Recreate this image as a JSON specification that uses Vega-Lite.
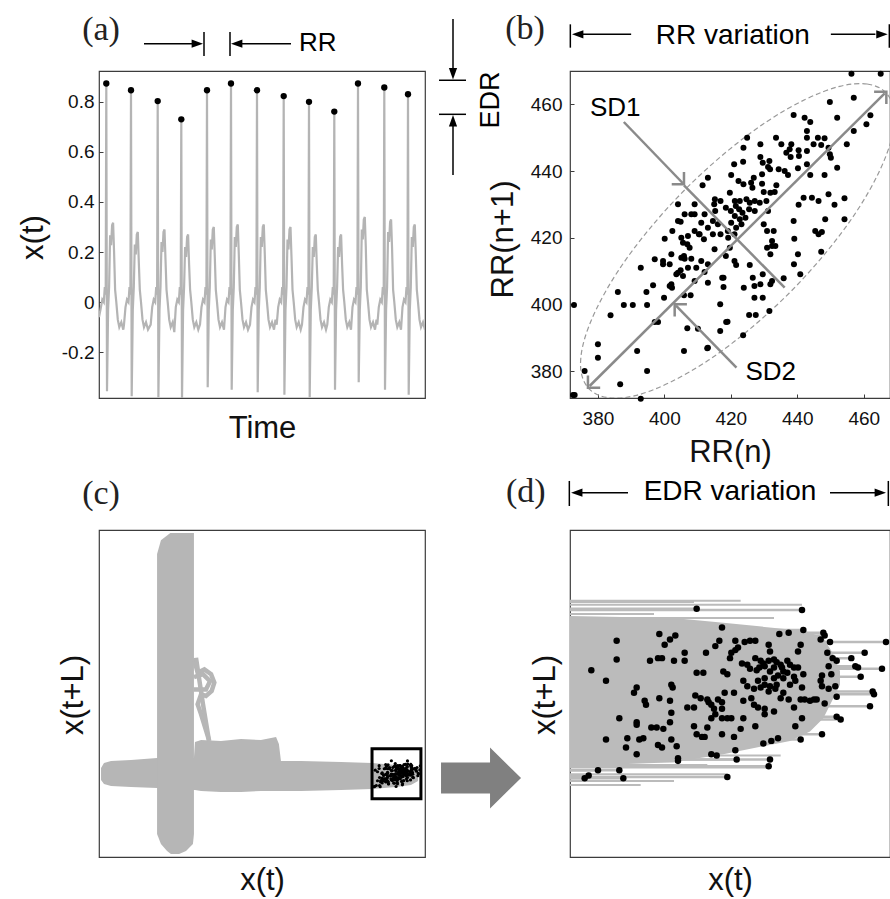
{
  "$schema": "https://vega.github.io/schema/vega-lite/v6.json",
  "autosize": {"type": "pad"},
  "padding": 0,
  "bounds": "flush",
  "columns": 2,
  "spacing": {"row": 132, "column": 145},
  "background": "white",
  "config": {
    "view": {"stroke": "#3c3c3c", "strokeWidth": 1.2},
    "font": "Liberation Sans",
    "axis": {"domain": false, "grid": false, "labelFont": "Liberation Sans", "labelFontSize": 19, "labelColor": "#111", "titleFont": "Liberation Sans", "titleFontSize": 31, "titleFontWeight": "normal", "titleColor": "#111", "tickColor": "#3c3c3c", "tickSize": -4, "tickWidth": 1}
  },
  "datasets": {
    "rpk": [
      {"x":0.835,"y":-0.079},{"x":0.914,"y":-0.080},{"x":0.854,"y":-0.093},{"x":0.915,"y":-0.095},{"x":0.904,"y":-0.097},{"x":0.897,"y":-0.098},{"x":0.930,"y":-0.097},{"x":0.931,"y":-0.099},{"x":0.928,"y":-0.102},{"x":0.935,"y":-0.104},
      {"x":0.977,"y":-0.104},{"x":0.807,"y":-0.098},{"x":0.815,"y":-0.102},{"x":0.819,"y":-0.099},{"x":0.811,"y":-0.106},{"x":0.775,"y":-0.103},{"x":0.864,"y":-0.103},{"x":0.871,"y":-0.104},{"x":0.875,"y":-0.103},{"x":0.879,"y":-0.103},
      {"x":0.852,"y":-0.103},{"x":0.849,"y":-0.107},{"x":0.889,"y":-0.106},{"x":0.890,"y":-0.111},{"x":0.913,"y":-0.106},{"x":0.911,"y":-0.111},{"x":0.775,"y":-0.117},{"x":0.800,"y":-0.118},{"x":0.806,"y":-0.116},{"x":0.809,"y":-0.116},
      {"x":0.818,"y":-0.118},{"x":0.826,"y":-0.112},{"x":0.826,"y":-0.118},{"x":0.842,"y":-0.112},{"x":0.861,"y":-0.112},{"x":0.864,"y":-0.110},{"x":0.860,"y":-0.116},{"x":0.866,"y":-0.108},{"x":0.933,"y":-0.112},{"x":0.937,"y":-0.116},
      {"x":0.940,"y":-0.118},{"x":0.951,"y":-0.116},{"x":0.961,"y":-0.112},{"x":0.954,"y":-0.122},{"x":0.956,"y":-0.123},{"x":0.974,"y":-0.124},{"x":0.958,"y":-0.130},{"x":0.756,"y":-0.125},{"x":0.767,"y":-0.133},{"x":0.835,"y":-0.127},
      {"x":0.840,"y":-0.127},{"x":0.855,"y":-0.126},{"x":0.858,"y":-0.128},{"x":0.869,"y":-0.120},{"x":0.873,"y":-0.121},{"x":0.875,"y":-0.124},{"x":0.880,"y":-0.125},{"x":0.882,"y":-0.123},{"x":0.885,"y":-0.120},{"x":0.889,"y":-0.118},
      {"x":0.893,"y":-0.117},{"x":0.895,"y":-0.119},{"x":0.898,"y":-0.121},{"x":0.903,"y":-0.118},{"x":0.905,"y":-0.121},{"x":0.908,"y":-0.123},{"x":0.911,"y":-0.123},{"x":0.900,"y":-0.126},{"x":0.890,"y":-0.126},{"x":0.886,"y":-0.131},
      {"x":0.893,"y":-0.131},{"x":0.896,"y":-0.129},{"x":0.900,"y":-0.131},{"x":0.908,"y":-0.130},{"x":0.915,"y":-0.128},{"x":0.929,"y":-0.129},{"x":0.934,"y":-0.122},{"x":0.936,"y":-0.128},{"x":0.788,"y":-0.142},{"x":0.790,"y":-0.138},
      {"x":0.816,"y":-0.136},{"x":0.817,"y":-0.138},{"x":0.807,"y":-0.146},{"x":0.870,"y":-0.133},{"x":0.873,"y":-0.137},{"x":0.878,"y":-0.139},{"x":0.883,"y":-0.138},{"x":0.886,"y":-0.136},{"x":0.890,"y":-0.137},{"x":0.894,"y":-0.139},
      {"x":0.900,"y":-0.142},{"x":0.905,"y":-0.136},{"x":0.914,"y":-0.138},{"x":0.928,"y":-0.133},{"x":0.929,"y":-0.137},{"x":0.934,"y":-0.139},{"x":0.939,"y":-0.137},{"x":0.940,"y":-0.145},{"x":0.967,"y":-0.141},{"x":0.968,"y":-0.143},
      {"x":0.965,"y":-0.152},{"x":0.796,"y":-0.148},{"x":0.797,"y":-0.151},{"x":0.815,"y":-0.148},{"x":0.816,"y":-0.157},{"x":0.828,"y":-0.153},{"x":0.833,"y":-0.153},{"x":0.834,"y":-0.144},{"x":0.838,"y":-0.146},{"x":0.843,"y":-0.147},
      {"x":0.844,"y":-0.149},{"x":0.846,"y":-0.151},{"x":0.848,"y":-0.154},{"x":0.849,"y":-0.158},{"x":0.851,"y":-0.147},{"x":0.854,"y":-0.149},{"x":0.854,"y":-0.154},{"x":0.856,"y":-0.142},{"x":0.863,"y":-0.142},{"x":0.870,"y":-0.148},
      {"x":0.876,"y":-0.146},{"x":0.878,"y":-0.151},{"x":0.881,"y":-0.153},{"x":0.886,"y":-0.154},{"x":0.893,"y":-0.156},{"x":0.898,"y":-0.146},{"x":0.904,"y":-0.147},{"x":0.908,"y":-0.153},{"x":0.913,"y":-0.147},{"x":0.916,"y":-0.147},
      {"x":0.920,"y":-0.148},{"x":0.923,"y":-0.147},{"x":0.925,"y":-0.147},{"x":0.931,"y":-0.150},{"x":0.940,"y":-0.160},{"x":0.943,"y":-0.162},{"x":0.914,"y":-0.161},{"x":0.777,"y":-0.161},{"x":0.790,"y":-0.164},{"x":0.790,"y":-0.166},
      {"x":0.801,"y":-0.168},{"x":0.805,"y":-0.168},{"x":0.810,"y":-0.169},{"x":0.815,"y":-0.164},{"x":0.833,"y":-0.167},{"x":0.843,"y":-0.168},{"x":0.839,"y":-0.175},{"x":0.846,"y":-0.161},{"x":0.854,"y":-0.161},{"x":0.858,"y":-0.161},
      {"x":0.861,"y":-0.161},{"x":0.870,"y":-0.161},{"x":0.868,"y":-0.169},{"x":0.879,"y":-0.167},{"x":0.886,"y":-0.158},{"x":0.909,"y":-0.167},{"x":0.929,"y":-0.173},{"x":0.767,"y":-0.177},{"x":0.783,"y":-0.176},{"x":0.792,"y":-0.177},
      {"x":0.795,"y":-0.176},{"x":0.816,"y":-0.177},{"x":0.806,"y":-0.181},{"x":0.809,"y":-0.183},{"x":0.820,"y":-0.182},{"x":0.782,"y":-0.183},{"x":0.790,"y":-0.188},{"x":0.835,"y":-0.173},{"x":0.841,"y":-0.175},{"x":0.854,"y":-0.173},
      {"x":0.863,"y":-0.175},{"x":0.885,"y":-0.180},{"x":0.891,"y":-0.178},{"x":0.896,"y":-0.176},{"x":0.913,"y":-0.177},{"x":0.864,"y":-0.185},{"x":0.865,"y":-0.192},{"x":0.846,"y":-0.188},{"x":0.850,"y":-0.189},{"x":0.821,"y":-0.191},
      {"x":0.821,"y":-0.193},{"x":0.890,"y":-0.192},{"x":0.889,"y":-0.197},{"x":0.751,"y":-0.206},{"x":0.754,"y":-0.204},{"x":0.761,"y":-0.200},{"x":0.777,"y":-0.200},{"x":0.780,"y":-0.206},{"x":0.858,"y":-0.205},{"x":0.879,"y":-0.116},
      {"x":0.883,"y":-0.118},{"x":0.886,"y":-0.122},{"x":0.893,"y":-0.123},{"x":0.899,"y":-0.123},{"x":0.903,"y":-0.127},{"x":0.881,"y":-0.133},{"x":0.909,"y":-0.133},{"x":0.889,"y":-0.141},{"x":0.895,"y":-0.136}
    ]
  },
  "concat": [
    {
      "width": 326, "height": 327,
      "layer": [
        {
          "data": {"values": [
            {"t":0,"v":-0.06},{"t":1.5,"v":-0.03},{"t":3.3,"v":0.01},{"t":4.8,"v":0.0},{"t":5.8,"v":0.06},{"t":6.7,"v":0.03},{"t":7.3,"v":0.873},{"t":8.0,"v":-0.356},{"t":9.1,"v":-0.03},{"t":10.1,"v":0.06},{"t":11.1,"v":0.267},{"t":12.1,"v":0.227},{"t":13.1,"v":0.307},{"t":14.1,"v":0.317},{"t":15.1,"v":0.197},{"t":16.1,"v":0.05},{"t":17.3,"v":0.0},{"t":18.8,"v":-0.07},{"t":20.3,"v":-0.10},{"t":22.3,"v":-0.08},{"t":24.3,"v":-0.11},
            {"t":25,"v":-0.09},{"t":26.5,"v":-0.02},{"t":28,"v":0.01},{"t":29.5,"v":0.0},{"t":30.5,"v":0.06},{"t":31.4,"v":0.03},{"t":32,"v":0.846},{"t":32.7,"v":-0.376},{"t":33.8,"v":-0.03},{"t":34.8,"v":0.06},{"t":35.8,"v":0.23},{"t":36.8,"v":0.19},{"t":37.8,"v":0.27},{"t":38.8,"v":0.28},{"t":39.8,"v":0.16},{"t":40.8,"v":0.05},{"t":42,"v":0.0},{"t":43.5,"v":-0.07},{"t":45,"v":-0.10},{"t":47,"v":-0.08},{"t":49,"v":-0.11},
            {"t":51.7,"v":-0.09},{"t":53.2,"v":-0.02},{"t":54.7,"v":0.01},{"t":56.2,"v":0.0},{"t":57.2,"v":0.06},{"t":58.1,"v":0.03},{"t":58.7,"v":0.803},{"t":59.4,"v":-0.38},{"t":60.5,"v":-0.03},{"t":61.5,"v":0.06},{"t":62.5,"v":0.24},{"t":63.5,"v":0.2},{"t":64.5,"v":0.28},{"t":65.5,"v":0.29},{"t":66.5,"v":0.17},{"t":67.5,"v":0.05},{"t":68.7,"v":0.0},{"t":70.2,"v":-0.07},{"t":71.7,"v":-0.10},{"t":73.7,"v":-0.08},
            {"t":75.3,"v":-0.12},{"t":76.8,"v":-0.02},{"t":78.3,"v":0.01},{"t":79.8,"v":0.0},{"t":80.8,"v":0.06},{"t":81.7,"v":0.03},{"t":82.3,"v":0.730},{"t":83.0,"v":-0.39},{"t":84.1,"v":-0.03},{"t":85.1,"v":0.06},{"t":86.1,"v":0.22},{"t":87.1,"v":0.18},{"t":88.1,"v":0.26},{"t":89.1,"v":0.27},{"t":90.1,"v":0.15},{"t":91.1,"v":0.05},{"t":92.3,"v":0.0},{"t":93.8,"v":-0.07},{"t":95.3,"v":-0.10},{"t":97.3,"v":-0.08},{"t":99.3,"v":-0.11},
            {"t":101,"v":-0.09},{"t":102.5,"v":-0.02},{"t":104,"v":0.01},{"t":105.5,"v":0.0},{"t":106.5,"v":0.06},{"t":107.4,"v":0.03},{"t":108,"v":0.846},{"t":108.7,"v":-0.34},{"t":109.8,"v":-0.03},{"t":110.8,"v":0.06},{"t":111.8,"v":0.25},{"t":112.8,"v":0.21},{"t":113.8,"v":0.29},{"t":114.8,"v":0.30},{"t":115.8,"v":0.18},{"t":116.8,"v":0.05},{"t":118,"v":0.0},{"t":119.5,"v":-0.07},{"t":121,"v":-0.10},{"t":123,"v":-0.08},
            {"t":125,"v":-0.11},{"t":126.5,"v":-0.02},{"t":128,"v":0.01},{"t":129.5,"v":0.0},{"t":130.5,"v":0.06},{"t":131.4,"v":0.03},{"t":132,"v":0.873},{"t":132.7,"v":-0.35},{"t":133.8,"v":-0.03},{"t":134.8,"v":0.06},{"t":135.8,"v":0.26},{"t":136.8,"v":0.22},{"t":137.8,"v":0.30},{"t":138.8,"v":0.31},{"t":139.8,"v":0.19},{"t":140.8,"v":0.05},{"t":142,"v":0.0},{"t":143.5,"v":-0.07},{"t":145,"v":-0.10},{"t":147,"v":-0.08},{"t":149,"v":-0.11},
            {"t":151,"v":-0.09},{"t":152.5,"v":-0.02},{"t":154,"v":0.01},{"t":155.5,"v":0.0},{"t":156.5,"v":0.06},{"t":157.4,"v":0.03},{"t":158,"v":0.846},{"t":158.7,"v":-0.36},{"t":159.8,"v":-0.03},{"t":160.8,"v":0.06},{"t":161.8,"v":0.26},{"t":162.8,"v":0.22},{"t":163.8,"v":0.30},{"t":164.8,"v":0.31},{"t":165.8,"v":0.19},{"t":166.8,"v":0.05},{"t":168,"v":0.0},{"t":169.5,"v":-0.07},{"t":171,"v":-0.10},{"t":173,"v":-0.08},{"t":175,"v":-0.11},{"t":176.5,"v":-0.07},
            {"t":177.7,"v":-0.09},{"t":179.2,"v":-0.02},{"t":180.7,"v":0.01},{"t":182.2,"v":0.0},{"t":183.2,"v":0.06},{"t":184.1,"v":0.03},{"t":184.7,"v":0.823},{"t":185.4,"v":-0.37},{"t":186.5,"v":-0.03},{"t":187.5,"v":0.06},{"t":188.5,"v":0.25},{"t":189.5,"v":0.21},{"t":190.5,"v":0.29},{"t":191.5,"v":0.30},{"t":192.5,"v":0.18},{"t":193.5,"v":0.05},{"t":194.7,"v":0.0},{"t":196.2,"v":-0.07},{"t":197.7,"v":-0.10},{"t":199.7,"v":-0.08},{"t":201.7,"v":-0.11},
            {"t":203,"v":-0.09},{"t":204.5,"v":-0.02},{"t":206,"v":0.01},{"t":207.5,"v":0.0},{"t":208.5,"v":0.06},{"t":209.4,"v":0.03},{"t":210,"v":0.80},{"t":210.7,"v":-0.38},{"t":211.8,"v":-0.03},{"t":212.8,"v":0.06},{"t":213.8,"v":0.22},{"t":214.8,"v":0.18},{"t":215.8,"v":0.26},{"t":216.8,"v":0.27},{"t":217.8,"v":0.15},{"t":218.8,"v":0.05},{"t":220,"v":0.0},{"t":221.5,"v":-0.07},{"t":223,"v":-0.10},{"t":225,"v":-0.08},{"t":227,"v":-0.11},
            {"t":228.3,"v":-0.09},{"t":229.8,"v":-0.02},{"t":231.3,"v":0.01},{"t":232.8,"v":0.0},{"t":233.8,"v":0.06},{"t":234.7,"v":0.03},{"t":235.3,"v":0.761},{"t":236.0,"v":-0.35},{"t":237.1,"v":-0.03},{"t":238.1,"v":0.06},{"t":239.1,"v":0.22},{"t":240.1,"v":0.18},{"t":241.1,"v":0.26},{"t":242.1,"v":0.27},{"t":243.1,"v":0.15},{"t":244.1,"v":0.05},{"t":245.3,"v":0.0},{"t":246.8,"v":-0.07},{"t":248.3,"v":-0.10},{"t":250.3,"v":-0.08},
            {"t":252,"v":-0.11},{"t":253.5,"v":-0.02},{"t":255,"v":0.01},{"t":256.5,"v":0.0},{"t":257.5,"v":0.06},{"t":258.4,"v":0.03},{"t":259,"v":0.873},{"t":259.7,"v":-0.32},{"t":260.8,"v":-0.03},{"t":261.8,"v":0.06},{"t":262.8,"v":0.29},{"t":263.8,"v":0.25},{"t":264.8,"v":0.33},{"t":265.8,"v":0.34},{"t":266.8,"v":0.22},{"t":267.8,"v":0.05},{"t":269,"v":0.0},{"t":270.5,"v":-0.07},{"t":272,"v":-0.10},{"t":274,"v":-0.08},{"t":276,"v":-0.11},{"t":277.5,"v":-0.07},
            {"t":278.3,"v":-0.09},{"t":279.8,"v":-0.02},{"t":281.3,"v":0.01},{"t":282.8,"v":0.0},{"t":283.8,"v":0.06},{"t":284.7,"v":0.03},{"t":285.3,"v":0.857},{"t":286.0,"v":-0.35},{"t":287.1,"v":-0.03},{"t":288.1,"v":0.06},{"t":289.1,"v":0.28},{"t":290.1,"v":0.24},{"t":291.1,"v":0.32},{"t":292.1,"v":0.33},{"t":293.1,"v":0.21},{"t":294.1,"v":0.05},{"t":295.3,"v":0.0},{"t":296.8,"v":-0.07},{"t":298.3,"v":-0.10},{"t":300.3,"v":-0.08},
            {"t":302,"v":-0.11},{"t":303.5,"v":-0.02},{"t":305,"v":0.01},{"t":306.5,"v":0.0},{"t":307.5,"v":0.06},{"t":308.4,"v":0.03},{"t":309,"v":0.83},{"t":309.7,"v":-0.37},{"t":310.8,"v":-0.03},{"t":311.8,"v":0.06},{"t":312.8,"v":0.26},{"t":313.8,"v":0.22},{"t":314.8,"v":0.30},{"t":315.8,"v":0.31},{"t":316.8,"v":0.19},{"t":317.8,"v":0.05},{"t":319,"v":0.0},{"t":320.5,"v":-0.07},{"t":322,"v":-0.10},{"t":324,"v":-0.08},{"t":326,"v":-0.11}
          ]},
          "mark": {"type": "line", "color": "#b4b4b4", "strokeWidth": 2.2, "clip": true},
          "encoding": {
            "x": {"field": "t", "type": "quantitative", "scale": {"domain": [0, 326], "nice": false, "zero": false},
                  "axis": {"title": "Time", "labels": false, "ticks": false, "titleX": 163, "titleY": 39, "titleAlign": "center", "titleBaseline": "alphabetic"}},
            "y": {"field": "v", "type": "quantitative", "scale": {"domain": [-0.383, 0.923], "nice": false, "zero": false},
                  "axis": {"title": "x(t)", "values": [-0.2, 0, 0.2, 0.4, 0.6, 0.8], "labelExpr": "datum.value < 0 ? '-' + format(-datum.value, '.1f') : (datum.value == 0 ? '0' : format(datum.value, '.1f'))", "labelPadding": 9, "titleX": -66, "titleY": 166, "titleAlign": "center", "titleBaseline": "middle", "titleAngle": 270}}
          }
        },
        {
          "data": {"values": [{"t": -98, "v": 1.2026, "t2": -92}]},
          "mark": {"type": "rule", "color": "#ffffff", "strokeWidth": 1, "opacity": 0},
          "encoding": {"x": {"field": "t", "type": "quantitative"}, "x2": {"field": "t2"}, "y": {"field": "v", "type": "quantitative"}}
        },
        {
          "data": {"values": [
            {"t":7.3,"v":0.873},{"t":32,"v":0.846},{"t":58.7,"v":0.803},{"t":82.3,"v":0.730},{"t":108,"v":0.846},{"t":132,"v":0.873},{"t":158,"v":0.846},{"t":184.7,"v":0.823},{"t":210,"v":0.80},{"t":235.3,"v":0.761},{"t":259,"v":0.873},{"t":285.3,"v":0.857},{"t":309,"v":0.83}
          ]},
          "mark": {"type": "point", "filled": true, "color": "#000", "size": 40, "opacity": 1},
          "encoding": {"x": {"field": "t", "type": "quantitative"}, "y": {"field": "v", "type": "quantitative"}}
        },
        {
          "data": {"values": [
            {"t":45,"v":1.032,"t2":99,"v2":1.032},
            {"t":105,"v":1.079,"t2":105,"v2":0.983},
            {"t":131,"v":1.079,"t2":131,"v2":0.983},
            {"t":137,"v":1.032,"t2":192,"v2":1.032},
            {"t":354,"v":1.131,"t2":354,"v2":0.905},
            {"t":340,"v":0.886,"t2":367,"v2":0.886},
            {"t":340,"v":0.750,"t2":367,"v2":0.750},
            {"t":354,"v":0.730,"t2":354,"v2":0.508}
          ]},
          "mark": {"type": "rule", "color": "#000", "strokeWidth": 1.5},
          "encoding": {"x": {"field": "t", "type": "quantitative"}, "x2": {"field": "t2"}, "y": {"field": "v", "type": "quantitative"}, "y2": {"field": "v2"}}
        },
        {
          "data": {"values": [{"t":104,"v":1.032}]},
          "mark": {"type": "point", "shape": "M0,0L-1,-0.36L-1,0.36Z", "filled": true, "color": "#000", "size": 520, "opacity": 1, "angle": 0},
          "encoding": {"x": {"field": "t", "type": "quantitative"}, "y": {"field": "v", "type": "quantitative"}}
        },
        {
          "data": {"values": [{"t":132,"v":1.032}]},
          "mark": {"type": "point", "shape": "M0,0L-1,-0.36L-1,0.36Z", "filled": true, "color": "#000", "size": 520, "opacity": 1, "angle": 180},
          "encoding": {"x": {"field": "t", "type": "quantitative"}, "y": {"field": "v", "type": "quantitative"}}
        },
        {
          "data": {"values": [{"t":354,"v":0.889}]},
          "mark": {"type": "point", "shape": "M0,0L-1,-0.36L-1,0.36Z", "filled": true, "color": "#000", "size": 520, "opacity": 1, "angle": 90},
          "encoding": {"x": {"field": "t", "type": "quantitative"}, "y": {"field": "v", "type": "quantitative"}}
        },
        {
          "data": {"values": [{"t":354,"v":0.747}]},
          "mark": {"type": "point", "shape": "M0,0L-1,-0.36L-1,0.36Z", "filled": true, "color": "#000", "size": 520, "opacity": 1, "angle": 270},
          "encoding": {"x": {"field": "t", "type": "quantitative"}, "y": {"field": "v", "type": "quantitative"}}
        },
        {
          "data": {"values": [{"t": 2, "v": 1.087, "label": "(a)"}]},
          "mark": {"type": "text", "font": "Liberation Serif", "fontSize": 34, "color": "#222", "align": "center", "baseline": "middle"},
          "encoding": {"x": {"field": "t", "type": "quantitative"}, "y": {"field": "v", "type": "quantitative"}, "text": {"field": "label"}}
        },
        {
          "data": {"values": [{"t": 218.7, "v": 1.035, "label": "RR"}]},
          "mark": {"type": "text", "fontSize": 26, "color": "#000", "align": "center", "baseline": "middle"},
          "encoding": {"x": {"field": "t", "type": "quantitative"}, "y": {"field": "v", "type": "quantitative"}, "text": {"field": "label"}}
        },
        {
          "data": {"values": [{"t": 392, "v": 0.807, "label": "EDR"}]},
          "mark": {"type": "text", "fontSize": 27, "color": "#000", "align": "center", "baseline": "middle", "angle": 270},
          "encoding": {"x": {"field": "t", "type": "quantitative"}, "y": {"field": "v", "type": "quantitative"}, "text": {"field": "label"}}
        }
      ]
    },
    {
      "width": 320, "height": 327,
      "layer": [
        {
          "data": {"values": [
            {"k":0,"x":466.6,"y":463.6},{"k":1,"x":461.0,"y":466.1},{"k":2,"x":452.8,"y":465.4},{"k":3,"x":442.5,"y":461.5},{"k":4,"x":430.8,"y":454.8},{"k":5,"x":418.5,"y":445.6},
            {"k":6,"x":406.4,"y":434.6},{"k":7,"x":395.4,"y":422.5},{"k":8,"x":386.2,"y":410.2},{"k":9,"x":379.5,"y":398.5},{"k":10,"x":375.6,"y":388.2},{"k":11,"x":374.9,"y":380.0},
            {"k":12,"x":377.5,"y":374.5},{"k":13,"x":383.0,"y":372.0},{"k":14,"x":391.2,"y":372.6},{"k":15,"x":401.5,"y":376.5},{"k":16,"x":413.2,"y":383.2},{"k":17,"x":425.5,"y":392.4},
            {"k":18,"x":437.6,"y":403.4},{"k":19,"x":448.6,"y":415.5},{"k":20,"x":457.8,"y":427.8},{"k":21,"x":464.5,"y":439.5},{"k":22,"x":468.4,"y":449.8},{"k":23,"x":469.1,"y":458.0}
          ]},
          "mark": {"type": "line", "interpolate": "cardinal-closed", "color": "#999999", "strokeWidth": 1.2, "strokeDash": [5, 3], "clip": true},
          "encoding": {
            "x": {"field": "x", "type": "quantitative", "scale": {"domain": [371.6, 467.9], "nice": false, "zero": false},
                  "axis": {"title": "RR(n)", "values": [380, 400, 420, 440, 460], "labelPadding": 15, "titleX": 160, "titleY": 63, "titleAlign": "center", "titleBaseline": "alphabetic"}},
            "y": {"field": "y", "type": "quantitative", "scale": {"domain": [371.9, 470], "nice": false, "zero": false},
                  "axis": {"title": "RR(n+1)", "values": [380, 400, 420, 440, 460], "labelPadding": 12, "titleX": -66.5, "titleY": 168, "titleAlign": "center", "titleBaseline": "middle", "titleAngle": 270}},
            "order": {"field": "k", "type": "quantitative"}
          }
        },
        {
          "data": {"values": [
            {"x":456.3,"y":469.2},{"x":465.1,"y":469.2},{"x":449.8,"y":460.7},{"x":457,"y":462},{"x":462,"y":456.7},{"x":460.8,"y":454},{"x":457,"y":452},{"x":452,"y":456},{"x":454.9,"y":448},{"x":452,"y":441},
            {"x":424.9,"y":450},{"x":438.9,"y":456.8},{"x":442.2,"y":456},{"x":443.9,"y":454.7},{"x":442.9,"y":452},{"x":442.9,"y":450},{"x":433.6,"y":450},{"x":435.2,"y":448},{"x":438.2,"y":448},{"x":444.9,"y":448},
            {"x":446.2,"y":450},{"x":448.2,"y":449.8},{"x":447.2,"y":447.8},{"x":449.4,"y":447},{"x":437.7,"y":446.5},{"x":436.7,"y":445.5},{"x":440.4,"y":446.2},{"x":440.5,"y":444.5},{"x":442.9,"y":446},{"x":449.8,"y":445},
            {"x":450.1,"y":444},{"x":428.9,"y":448},{"x":423.8,"y":447},{"x":428.9,"y":444.2},{"x":423.7,"y":442.8},{"x":421,"y":442},{"x":429.6,"y":442.5},{"x":431.6,"y":443},{"x":431.8,"y":440.5},{"x":434.4,"y":440.5},
            {"x":436.2,"y":440},{"x":437.2,"y":438.8},{"x":440.2,"y":440.8},{"x":442.9,"y":442},{"x":443.9,"y":438.8},{"x":448.2,"y":438.8},{"x":413.1,"y":438},{"x":411.5,"y":435.7},{"x":420.1,"y":438.8},{"x":422.3,"y":437},
            {"x":423.8,"y":436},{"x":426.9,"y":438},{"x":429.4,"y":439},{"x":426.1,"y":436.5},{"x":426.5,"y":435},{"x":429.4,"y":436.2},{"x":429.9,"y":433.7},{"x":431.9,"y":433.5},{"x":433.2,"y":433.7},{"x":433.7,"y":435.7},
            {"x":419.7,"y":433.5},{"x":421.2,"y":431},{"x":422.7,"y":431},{"x":424.7,"y":431.5},{"x":425.7,"y":430.5},{"x":427.2,"y":431},{"x":428.7,"y":430.5},{"x":430.7,"y":431},{"x":415.2,"y":431.5},{"x":415,"y":430},
            {"x":418.5,"y":429},{"x":420,"y":428},{"x":421.5,"y":429.5},{"x":422.5,"y":428.5},{"x":423.5,"y":427.5},{"x":425.5,"y":428.5},{"x":427.2,"y":428},{"x":431.2,"y":428},{"x":421.2,"y":426.5},{"x":422.7,"y":425.5},
            {"x":424.4,"y":426},{"x":420.1,"y":424.5},{"x":421.6,"y":423},{"x":423.2,"y":424},{"x":419.1,"y":422},{"x":421.1,"y":421},{"x":429.9,"y":424},{"x":430.9,"y":422},{"x":432.9,"y":422},{"x":432.4,"y":419},
            {"x":432.4,"y":417.5},{"x":430.9,"y":417},{"x":431.9,"y":415},{"x":433.4,"y":417.5},{"x":440.4,"y":429.9},{"x":441.9,"y":432},{"x":444.4,"y":432},{"x":446.4,"y":431},{"x":449.4,"y":433},{"x":454.2,"y":431.8},
            {"x":451.2,"y":429.9},{"x":448.4,"y":425.5},{"x":445.4,"y":422},{"x":446.4,"y":421},{"x":447.4,"y":421.7},{"x":454.2,"y":425.5},{"x":438.9,"y":425},{"x":439.1,"y":419.7},{"x":440.2,"y":415},{"x":439,"y":412},
            {"x":440.9,"y":409},{"x":447.2,"y":415.8},{"x":418.5,"y":414.5},{"x":421.1,"y":413},{"x":421.6,"y":411.8},{"x":425.7,"y":411.8},{"x":417.8,"y":408},{"x":417.8,"y":405.2},{"x":423.9,"y":405},{"x":426.6,"y":408},
            {"x":427.1,"y":405.5},{"x":429.6,"y":409},{"x":428.9,"y":406},{"x":431.9,"y":406},{"x":432.4,"y":407},{"x":435.9,"y":407.8},{"x":427.1,"y":402},{"x":429.6,"y":402},{"x":425.5,"y":396.8},{"x":427.5,"y":396.8},
            {"x":431.6,"y":398},{"x":416.8,"y":400},{"x":418.6,"y":394.7},{"x":416.8,"y":392},{"x":423.7,"y":390.7},{"x":413.1,"y":387},{"x":410.1,"y":392.7},{"x":405.9,"y":386},{"x":419.7,"y":417},{"x":419.2,"y":420},
            {"x":415.1,"y":416.5},{"x":413.1,"y":412},{"x":412.1,"y":409.7},{"x":413.1,"y":406.5},{"x":409.1,"y":407},{"x":409.6,"y":411},{"x":411.1,"y":413},{"x":414.6,"y":421},{"x":413.1,"y":423},{"x":410.6,"y":421},
            {"x":409.1,"y":422},{"x":411.1,"y":424.5},{"x":409.1,"y":427},{"x":408.1,"y":427},{"x":406.1,"y":427},{"x":409.1,"y":430},{"x":412.1,"y":427},{"x":414.6,"y":425},{"x":416.1,"y":424},{"x":415.3,"y":428},
            {"x":404.1,"y":430},{"x":404.1,"y":425},{"x":404.9,"y":424.8},{"x":402.4,"y":422},{"x":400.1,"y":419.7},{"x":405.1,"y":420},{"x":405.6,"y":418.5},{"x":406.9,"y":418},{"x":407.1,"y":420.5},{"x":407.6,"y":417},
            {"x":402.1,"y":415},{"x":399.6,"y":413},{"x":399.6,"y":412},{"x":401.6,"y":412},{"x":397.1,"y":413.5},{"x":405.1,"y":414},{"x":406.1,"y":413.7},{"x":408.1,"y":413.7},{"x":407.1,"y":411},{"x":404.1,"y":409.5},
            {"x":403.6,"y":409},{"x":405.6,"y":408.5},{"x":402.1,"y":406},{"x":401.6,"y":405.5},{"x":402.3,"y":405},{"x":392.9,"y":411},{"x":396.6,"y":405.7},{"x":394.6,"y":403.7},{"x":386,"y":403.7},{"x":399.9,"y":402},
            {"x":405.9,"y":402.7},{"x":407.9,"y":402.7},{"x":387.8,"y":399.8},{"x":390.5,"y":399.8},{"x":394.8,"y":399.8},{"x":383.8,"y":396.7},{"x":397.1,"y":394.7},{"x":398.1,"y":394.7},{"x":380,"y":388},{"x":380,"y":384},
            {"x":391.8,"y":386},{"x":394.8,"y":380},{"x":376,"y":380},{"x":386.7,"y":376},{"x":372.5,"y":372.8},{"x":373,"y":372.8},{"x":392.9,"y":371.7},{"x":372.8,"y":399.8},{"x":416.9,"y":431},{"x":438,"y":444.2},
            {"x":431.2,"y":441.2},{"x":410.4,"y":421},{"x":411.9,"y":419.5},{"x":416.9,"y":421},{"x":405.9,"y":414.5},{"x":404.9,"y":410.2},{"x":406.9,"y":392.8},{"x":412.9,"y":386.8},{"x":417.4,"y":408},{"x":419,"y":394.8}
          ]},
          "mark": {"type": "point", "filled": true, "color": "#000", "size": 36, "opacity": 1},
          "encoding": {"x": {"field": "x", "type": "quantitative"}, "y": {"field": "y", "type": "quantitative"}}
        },
        {
          "data": {"values": [
            {"x":377.5,"y":375.5,"x2":466.3,"y2":463.3},
            {"x":405.9,"y":435.7,"x2":436.2,"y2":405},
            {"x":387.8,"y":454.7,"x2":405.5,"y2":436.4},
            {"x":421.7,"y":381,"x2":403.5,"y2":399.6}
          ]},
          "mark": {"type": "rule", "color": "#8a8a8a", "strokeWidth": 2.5},
          "encoding": {"x": {"field": "x", "type": "quantitative"}, "x2": {"field": "x2"}, "y": {"field": "y", "type": "quantitative"}, "y2": {"field": "y2"}}
        },
        {
          "data": {"values": [{"x":466.8,"y":463.8}]},
          "mark": {"type": "point", "shape": "M-1,-1L0,0L-1,1", "filled": false, "color": "#8a8a8a", "strokeWidth": 2.5, "size": 300, "opacity": 1, "angle": 315},
          "encoding": {"x": {"field": "x", "type": "quantitative"}, "y": {"field": "y", "type": "quantitative"}}
        },
        {
          "data": {"values": [{"x":377,"y":375}]},
          "mark": {"type": "point", "shape": "M-1,-1L0,0L-1,1", "filled": false, "color": "#8a8a8a", "strokeWidth": 2.5, "size": 300, "opacity": 1, "angle": 135},
          "encoding": {"x": {"field": "x", "type": "quantitative"}, "y": {"field": "y", "type": "quantitative"}}
        },
        {
          "data": {"values": [{"x":405.9,"y":436}]},
          "mark": {"type": "point", "shape": "M-1,-1L0,0L-1,1", "filled": false, "color": "#8a8a8a", "strokeWidth": 2.5, "size": 300, "opacity": 1, "angle": 45},
          "encoding": {"x": {"field": "x", "type": "quantitative"}, "y": {"field": "y", "type": "quantitative"}}
        },
        {
          "data": {"values": [{"x":403.1,"y":400}]},
          "mark": {"type": "point", "shape": "M-1,-1L0,0L-1,1", "filled": false, "color": "#8a8a8a", "strokeWidth": 2.5, "size": 300, "opacity": 1, "angle": 225},
          "encoding": {"x": {"field": "x", "type": "quantitative"}, "y": {"field": "y", "type": "quantitative"}}
        },
        {
          "data": {"values": [{"x": 385.2, "y": 459, "label": "SD1"}, {"x": 432, "y": 379.8, "label": "SD2"}]},
          "mark": {"type": "text", "fontSize": 26, "color": "#000", "align": "center", "baseline": "middle"},
          "encoding": {"x": {"field": "x", "type": "quantitative"}, "y": {"field": "y", "type": "quantitative"}, "text": {"field": "label"}}
        },
        {
          "data": {"values": [
            {"x":371.7,"y":484,"x2":371.7,"y2":477},
            {"x":467.7,"y":484,"x2":467.7,"y2":477},
            {"x":373.5,"y":481,"x2":390,"y2":481},
            {"x":450.1,"y":481,"x2":463.5,"y2":481}
          ]},
          "mark": {"type": "rule", "color": "#000", "strokeWidth": 1.5},
          "encoding": {"x": {"field": "x", "type": "quantitative"}, "x2": {"field": "x2"}, "y": {"field": "y", "type": "quantitative"}, "y2": {"field": "y2"}}
        },
        {
          "data": {"values": [{"x":372.2,"y":481}]},
          "mark": {"type": "point", "shape": "M0,0L-1,-0.36L-1,0.36Z", "filled": true, "color": "#000", "size": 520, "opacity": 1, "angle": 180},
          "encoding": {"x": {"field": "x", "type": "quantitative"}, "y": {"field": "y", "type": "quantitative"}}
        },
        {
          "data": {"values": [{"x":467.2,"y":481}]},
          "mark": {"type": "point", "shape": "M0,0L-1,-0.36L-1,0.36Z", "filled": true, "color": "#000", "size": 520, "opacity": 1, "angle": 0},
          "encoding": {"x": {"field": "x", "type": "quantitative"}, "y": {"field": "y", "type": "quantitative"}}
        },
        {
          "data": {"values": [{"x": 358.05, "y": 482.5, "label": "(b)"}]},
          "mark": {"type": "text", "font": "Liberation Serif", "fontSize": 34, "color": "#222", "align": "center", "baseline": "middle"},
          "encoding": {"x": {"field": "x", "type": "quantitative"}, "y": {"field": "y", "type": "quantitative"}, "text": {"field": "label"}}
        },
        {
          "data": {"values": [{"x": 420.6, "y": 480.4, "label": "RR variation"}]},
          "mark": {"type": "text", "fontSize": 28, "color": "#000", "align": "center", "baseline": "middle"},
          "encoding": {"x": {"field": "x", "type": "quantitative"}, "y": {"field": "y", "type": "quantitative"}, "text": {"field": "label"}}
        }
      ]
    },
    {
      "width": 326, "height": 327,
      "layer": [
        {
          "data": {"values": [
            {"x":-0.590,"ylo":-0.173,"yhi":-0.115},{"x":-0.5755,"ylo":-0.193,"yhi":-0.090},{"x":-0.541,"ylo":-0.203,"yhi":-0.080},{"x":-0.443,"ylo":-0.208,"yhi":-0.075},
            {"x":-0.315,"ylo":-0.212,"yhi":-0.066},{"x":-0.134,"ylo":-0.222,"yhi":-0.066},{"x":-0.129,"ylo":-0.222,"yhi":0.013},{"x":-0.099,"ylo":-0.227,"yhi":0.022},
            {"x":-0.001,"ylo":-0.232,"yhi":0.018},{"x":0.097,"ylo":-0.232,"yhi":0.027},{"x":0.195,"ylo":-0.227,"yhi":0.022},{"x":0.269,"ylo":-0.227,"yhi":0.037},
            {"x":0.283,"ylo":-0.227,"yhi":0.003},{"x":0.293,"ylo":-0.227,"yhi":-0.080},{"x":0.391,"ylo":-0.227,"yhi":-0.080},{"x":0.588,"ylo":-0.222,"yhi":-0.085},
            {"x":0.740,"ylo":-0.217,"yhi":-0.090},{"x":0.858,"ylo":-0.208,"yhi":-0.100},{"x":0.931,"ylo":-0.198,"yhi":-0.110},{"x":0.966,"ylo":-0.178,"yhi":-0.129}
          ]},
          "mark": {"type": "area", "color": "#b6b6b6", "opacity": 1},
          "encoding": {
            "x": {"field": "x", "type": "quantitative", "scale": {"domain": [-0.6, 1.0], "nice": false, "zero": false},
                  "axis": {"title": "x(t)", "labels": false, "ticks": false, "titleX": 163, "titleY": 32.5, "titleAlign": "center", "titleBaseline": "alphabetic"}},
            "y": {"field": "ylo", "type": "quantitative", "scale": {"domain": [-0.55, 1.05], "nice": false, "zero": false},
                  "axis": {"title": "x(t+L)", "labels": false, "ticks": false, "titleX": -25.5, "titleY": 164.5, "titleAlign": "center", "titleBaseline": "middle", "titleAngle": 270}},
            "y2": {"field": "yhi"}
          }
        },
        {
          "data": {"values": [
            {"y":1.035,"xl":-0.25,"xr":-0.134},{"y":1.0,"xl":-0.296,"xr":-0.134},{"y":0.932,"xl":-0.315,"xr":-0.134},{"y":-0.4375,"xl":-0.315,"xr":-0.134},
            {"y":-0.486,"xl":-0.296,"xr":-0.139},{"y":-0.521,"xl":-0.266,"xr":-0.173},{"y":-0.535,"xl":-0.247,"xr":-0.207}
          ]},
          "mark": {"type": "area", "orient": "horizontal", "color": "#b6b6b6", "opacity": 1},
          "encoding": {"y": {"field": "y", "type": "quantitative"}, "x": {"field": "xl", "type": "quantitative"}, "x2": {"field": "xr"}}
        },
        {
          "data": {"values": [
            {"s":"loop","k":0,"x":-0.134,"y":0.42},{"s":"loop","k":1,"x":-0.116,"y":0.352},{"s":"loop","k":2,"x":-0.083,"y":0.368},{"s":"loop","k":3,"x":-0.050,"y":0.344},
            {"s":"loop","k":4,"x":-0.034,"y":0.303},{"s":"loop","k":5,"x":-0.047,"y":0.262},{"s":"loop","k":6,"x":-0.075,"y":0.238},{"s":"loop","k":7,"x":-0.099,"y":0.246},
            {"s":"loop","k":8,"x":-0.116,"y":0.197},{"s":"loop","k":9,"x":-0.099,"y":0.148},{"s":"loop","k":10,"x":-0.059,"y":0.018},
            {"s":"inner","k":0,"x":-0.134,"y":0.33},{"s":"inner","k":1,"x":-0.09,"y":0.345},{"s":"inner","k":2,"x":-0.055,"y":0.31},{"s":"inner","k":3,"x":-0.075,"y":0.27},{"s":"inner","k":4,"x":-0.134,"y":0.27},
            {"s":"stray","k":0,"x":-0.124,"y":0.425},{"s":"stray","k":1,"x":-0.09,"y":0.2},{"s":"stray","k":2,"x":-0.060,"y":0.018}
          ]},
          "mark": {"type": "line", "color": "#b6b6b6", "strokeWidth": 4.5},
          "encoding": {"x": {"field": "x", "type": "quantitative"}, "y": {"field": "y", "type": "quantitative"}, "detail": {"field": "s"}, "order": {"field": "k", "type": "quantitative"}}
        },
        {
          "data": {"name": "rpk"},
          "mark": {"type": "point", "filled": true, "color": "#000", "size": 10, "opacity": 1},
          "encoding": {"x": {"field": "x", "type": "quantitative"}, "y": {"field": "y", "type": "quantitative"}}
        },
        {
          "data": {"values": [{"x": 0.74, "x2": 0.98, "y": -0.265, "y2": -0.02}]},
          "mark": {"type": "rect", "filled": false, "color": "#000", "strokeWidth": 3},
          "encoding": {"x": {"field": "x", "type": "quantitative"}, "x2": {"field": "x2"}, "y": {"field": "y", "type": "quantitative"}, "y2": {"field": "y2"}}
        },
        {
          "data": {"values": [{"x": 1.275, "y": -0.1635}]},
          "mark": {"type": "point", "shape": "M-1,-0.39L0.225,-0.39L0.225,-0.76L1,0L0.225,0.76L0.225,0.39L-1,0.39Z", "filled": true, "color": "#808080", "size": 6400, "opacity": 1},
          "encoding": {"x": {"field": "x", "type": "quantitative"}, "y": {"field": "y", "type": "quantitative"}}
        },
        {
          "data": {"values": [{"x": -0.590, "y": 1.226, "label": "(c)"}]},
          "mark": {"type": "text", "font": "Liberation Serif", "fontSize": 34, "color": "#222", "align": "center", "baseline": "middle"},
          "encoding": {"x": {"field": "x", "type": "quantitative"}, "y": {"field": "y", "type": "quantitative"}, "text": {"field": "label"}}
        }
      ]
    },
    {
      "width": 320, "height": 327,
      "layer": [
        {
          "data": {"values": [
            {"x":0.74,"ylo":-0.197,"yhi":-0.0845},{"x":0.8175,"ylo":-0.194,"yhi":-0.086},{"x":0.855,"ylo":-0.188,"yhi":-0.0895},{"x":0.880,"ylo":-0.183,"yhi":-0.092},
            {"x":0.905,"ylo":-0.178,"yhi":-0.0945},{"x":0.920,"ylo":-0.171,"yhi":-0.097},{"x":0.930,"ylo":-0.161,"yhi":-0.1008},{"x":0.9375,"ylo":-0.146,"yhi":-0.113},{"x":0.9425,"ylo":-0.136,"yhi":-0.1258}
          ]},
          "mark": {"type": "area", "color": "#bbbbbb", "opacity": 1},
          "encoding": {
            "x": {"field": "x", "type": "quantitative", "scale": {"domain": [0.74, 0.98], "nice": false, "zero": false},
                  "axis": {"title": "x(t)", "labels": false, "ticks": false, "titleX": 160, "titleY": 32.5, "titleAlign": "center", "titleBaseline": "alphabetic"}},
            "y": {"field": "ylo", "type": "quantitative", "scale": {"domain": [-0.265, -0.02], "nice": false, "zero": false},
                  "axis": {"title": "x(t+L)", "labels": false, "ticks": false, "titleX": -25, "titleY": 164.5, "titleAlign": "center", "titleBaseline": "middle", "titleAngle": 270}},
            "y2": {"field": "yhi"}
          }
        },
        {
          "data": {"values": [
            {"x":0.914,"y":-0.076},{"x":0.868,"y":-0.073},{"x":0.833,"y":-0.074},{"x":0.803,"y":-0.083},{"x":0.893,"y":-0.086},
            {"x":0.888,"y":-0.198},{"x":0.858,"y":-0.203},{"x":0.818,"y":-0.208},{"x":0.793,"y":-0.211},{"x":0.843,"y":-0.196},{"x":0.898,"y":-0.189}
          ]},
          "mark": {"type": "rule", "color": "#bbbbbb", "strokeWidth": 2},
          "encoding": {"x": {"field": "x", "type": "quantitative"}, "x2": {"datum": 0.74}, "y": {"field": "y", "type": "quantitative"}}
        },
        {
          "data": {"name": "rpk"},
          "mark": {"type": "rule", "color": "#bbbbbb", "strokeWidth": 2.5},
          "encoding": {"x": {"field": "x", "type": "quantitative"}, "x2": {"datum": 0.74}, "y": {"field": "y", "type": "quantitative"}}
        },
        {
          "data": {"name": "rpk"},
          "mark": {"type": "point", "filled": true, "color": "#000", "size": 42, "opacity": 1},
          "encoding": {"x": {"field": "x", "type": "quantitative"}, "y": {"field": "y", "type": "quantitative"}}
        },
        {
          "data": {"values": [
            {"x":0.7395,"y":0.01675,"x2":0.7395,"y2":-0.002},
            {"x":0.97875,"y":0.01675,"x2":0.97875,"y2":-0.002},
            {"x":0.7438,"y":0.008,"x2":0.7835,"y2":0.008},
            {"x":0.935,"y":0.008,"x2":0.974,"y2":0.008}
          ]},
          "mark": {"type": "rule", "color": "#000", "strokeWidth": 1.5},
          "encoding": {"x": {"field": "x", "type": "quantitative"}, "x2": {"field": "x2"}, "y": {"field": "y", "type": "quantitative"}, "y2": {"field": "y2"}}
        },
        {
          "data": {"values": [{"x":0.7408,"y":0.008}]},
          "mark": {"type": "point", "shape": "M0,0L-1,-0.36L-1,0.36Z", "filled": true, "color": "#000", "size": 520, "opacity": 1, "angle": 180},
          "encoding": {"x": {"field": "x", "type": "quantitative"}, "y": {"field": "y", "type": "quantitative"}}
        },
        {
          "data": {"values": [{"x":0.977,"y":0.008}]},
          "mark": {"type": "point", "shape": "M0,0L-1,-0.36L-1,0.36Z", "filled": true, "color": "#000", "size": 520, "opacity": 1, "angle": 0},
          "encoding": {"x": {"field": "x", "type": "quantitative"}, "y": {"field": "y", "type": "quantitative"}}
        },
        {
          "data": {"values": [{"x": 0.7069, "y": 0.0085, "label": "(d)"}]},
          "mark": {"type": "text", "font": "Liberation Serif", "fontSize": 34, "color": "#222", "align": "center", "baseline": "middle"},
          "encoding": {"x": {"field": "x", "type": "quantitative"}, "y": {"field": "y", "type": "quantitative"}, "text": {"field": "label"}}
        },
        {
          "data": {"values": [{"x": 0.86, "y": 0.0085, "label": "EDR variation"}]},
          "mark": {"type": "text", "fontSize": 28, "color": "#000", "align": "center", "baseline": "middle"},
          "encoding": {"x": {"field": "x", "type": "quantitative"}, "y": {"field": "y", "type": "quantitative"}, "text": {"field": "label"}}
        }
      ]
    }
  ]
}
